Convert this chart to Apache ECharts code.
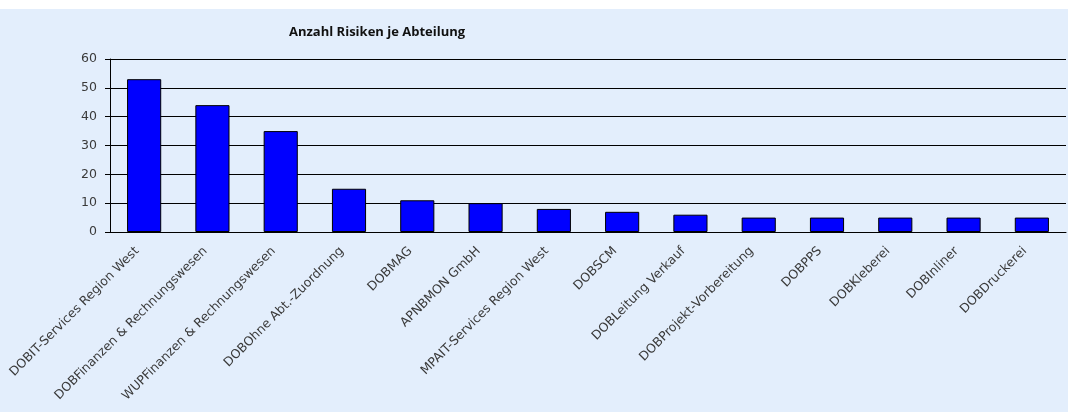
<!DOCTYPE html>
<html><head><meta charset="utf-8">
<script src="https://cdn.jsdelivr.net/npm/echarts@6/dist/echarts.min.js"></script>
<style>html,body{margin:0;padding:0;background:#fff;}#c{position:absolute;left:0;top:9px;width:1068px;height:403px;}</style>
</head><body><div id="c"></div>
<script>
const categories = ["DOBIT-Services Region West","DOBFinanzen & Rechnungswesen","WUPFinanzen & Rechnungswesen","DOBOhne Abt.-Zuordnung","DOBMAG","APNBMON GmbH","MPAIT-Services Region West","DOBSCM","DOBLeitung Verkauf","DOBProjekt-Vorbereitung","DOBPPS","DOBKleberei","DOBInliner","DOBDruckerei"];
const values = [53,44,35,15,11,10,8,7,6,5,5,5,5,5];
const chart = echarts.init(document.getElementById('c'));
chart.setOption({
  backgroundColor:'#E3EEFC',
  animation:false,
  title:{text:'Anzahl Risiken je Abteilung',left:284,top:12,textStyle:{fontFamily:'Open Sans',fontSize:13,fontWeight:'bold',color:'#111'}},
  grid:{left:110,right:2,top:50,bottom:180},
  xAxis:{type:'category',data:categories,
    axisLine:{lineStyle:{color:'#000',width:1}},
    axisTick:{length:4,lineStyle:{color:'#000'}},
    axisLabel:{rotate:45,interval:0,fontFamily:'DejaVu Sans',fontSize:12.5,color:'#3a3a3a',margin:10,padding:[0,10,0,0]}},
  yAxis:{type:'value',min:0,max:60,interval:10,
    axisLine:{show:true,lineStyle:{color:'#000'}},
    axisTick:{show:true,length:5,lineStyle:{color:'#000'}},
    splitLine:{lineStyle:{color:'#000',width:1}},
    axisLabel:{fontFamily:'DejaVu Sans',fontSize:12.5,color:'#3a3a3a',margin:13}},
  series:[{type:'bar',data:values,barWidth:'50%',itemStyle:{color:'#0000FF',borderColor:'#000',borderWidth:1}}]
});
</script></body></html>
